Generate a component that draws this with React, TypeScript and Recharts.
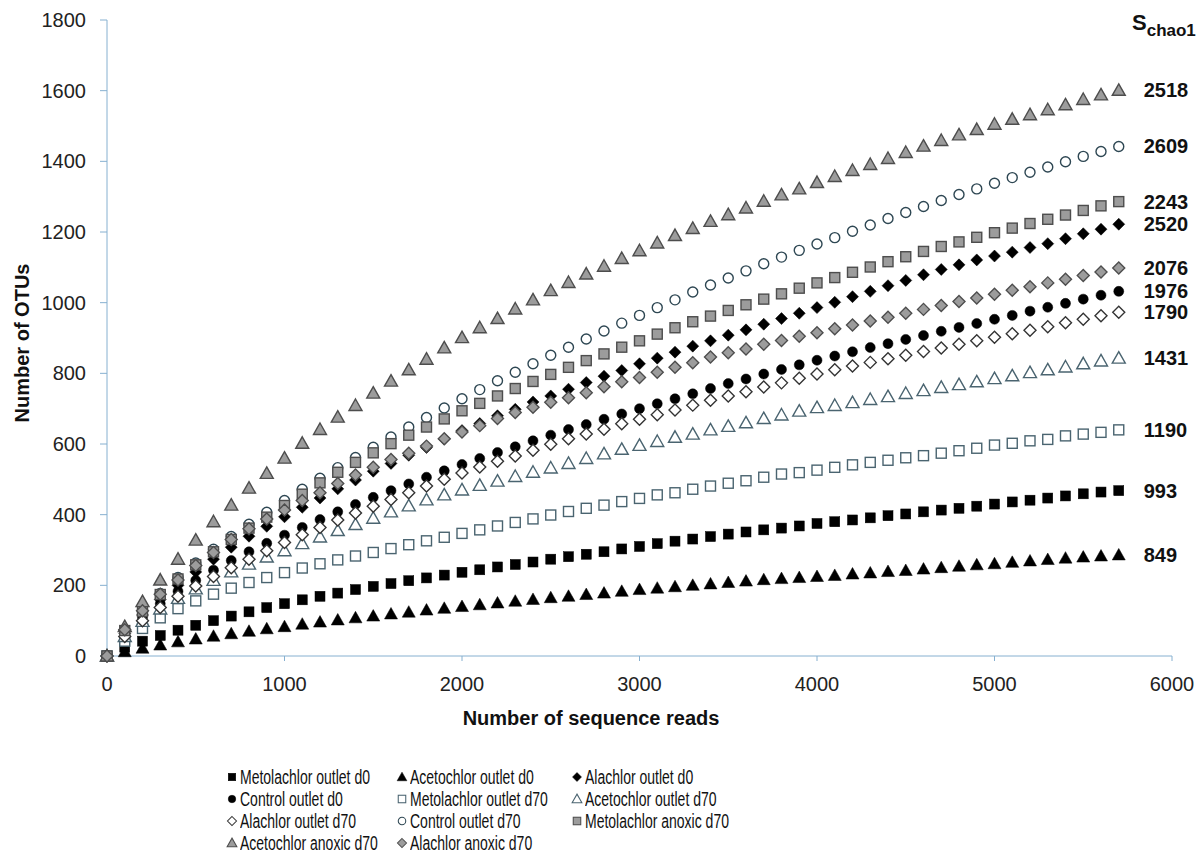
import React from "react";
import { ScatterChart, Scatter, XAxis, YAxis } from "recharts";

// sequence reads (x) at which each rarefaction point was computed
const READS = [
  0, 100, 200, 300, 400, 500, 600, 700, 800, 900, 1000, 1100, 1200, 1300, 1400, 1500, 1600, 1700, 1800, 1900,
  2000, 2100, 2200, 2300, 2400, 2500, 2600, 2700, 2800, 2900, 3000, 3100, 3200, 3300, 3400, 3500, 3600, 3700,
  3800, 3900, 4000, 4100, 4200, 4300, 4400, 4500, 4600, 4700, 4800, 4900, 5000, 5100, 5200, 5300, 5400, 5500,
  5600, 5700,
];

const METOLACHLOR_OUTLET_D0 = [
  0, 25, 42, 58, 73, 87, 100, 113, 125, 137, 148, 159, 169, 178, 188, 197, 205, 213, 221, 229, 237, 244, 252,
  259, 266, 274, 281, 288, 295, 303, 310, 318, 325, 331, 338, 345, 351, 357, 362, 368, 375, 380, 385, 391, 397,
  402, 408, 413, 418, 424, 430, 436, 441, 447, 453, 459, 464, 468,
];
const ACETOCHLOR_OUTLET_D0 = [
  0, 12, 22, 31, 40, 48, 56, 63, 70, 77, 83, 90, 96, 102, 108, 113, 119, 124, 130, 135, 140, 145, 150, 155, 160,
  165, 169, 174, 178, 183, 188, 192, 196, 200, 204, 208, 212, 216, 219, 222, 225, 228, 232, 235, 239, 242, 246,
  250, 254, 258, 261, 265, 269, 273, 277, 280, 283, 286,
];
const ALACHLOR_OUTLET_D0 = [
  0, 64, 116, 160, 200, 238, 274, 308, 339, 367, 394, 421, 447, 473, 498, 523, 545, 568, 590, 614, 638, 658, 680,
  698, 719, 736, 755, 774, 792, 808, 827, 843, 860, 877, 892, 908, 923, 939, 955, 970, 986, 1001, 1017, 1032,
  1048, 1063, 1079, 1094, 1107, 1121, 1132, 1143, 1156, 1167, 1181, 1195, 1208, 1222,
];
const CONTROL_OUTLET_D0 = [
  0, 60, 108, 148, 183, 214, 243, 270, 295, 319, 342, 364, 386, 408, 429, 449, 468, 487, 506, 524, 542, 559, 576,
  592, 609, 625, 641, 655, 670, 685, 700, 714, 728, 742, 757, 771, 784, 798, 811, 824, 837, 849, 861, 873, 884,
  896, 907, 919, 930, 941, 953, 964, 976, 987, 998, 1010, 1021, 1032,
];
const METOLACHLOR_OUTLET_D70 = [
  0, 42, 78, 108, 134, 156, 175, 192, 208, 222, 236, 249, 261, 272, 283, 293, 304, 315, 326, 336, 347, 357, 368,
  378, 388, 399, 409, 418, 427, 437, 446, 456, 462, 472, 481, 489, 496, 506, 515, 519, 526, 534, 541, 548, 554,
  561, 567, 574, 581, 588, 597, 602, 609, 613, 623, 628, 633, 640,
];
const ACETOCHLOR_OUTLET_D70 = [
  0, 55, 98, 133, 163, 190, 214, 238, 260, 280, 298, 318, 337, 355, 372, 390, 408, 425, 442, 456, 470, 483, 495,
  508, 520, 532, 545, 559, 572, 585, 596, 607, 619, 628, 640, 650, 660, 672, 682, 693, 703, 709, 717, 726, 734,
  743, 751, 760, 768, 776, 785, 793, 802, 810, 818, 827, 835, 843,
];
const ALACHLOR_OUTLET_D70 = [
  0, 55, 100, 137, 169, 198, 225, 250, 274, 298, 321, 343, 364, 385, 405, 424, 443, 462, 481, 500, 518, 535, 551,
  566, 582, 599, 615, 628, 642, 657, 670, 683, 696, 710, 724, 736, 748, 761, 773, 786, 798, 810, 821, 831, 841,
  851, 862, 872, 882, 892, 902, 912, 922, 932, 943, 953, 963, 973,
];
const CONTROL_OUTLET_D70 = [
  0, 72, 128, 177, 222, 263, 302, 338, 373, 407, 440, 472, 503, 533, 562, 591, 620, 648, 675, 702, 728, 754, 779,
  803, 827, 851, 874, 897, 920, 942, 964, 986, 1008, 1030, 1050, 1070, 1090, 1110, 1129, 1148, 1166, 1184, 1202,
  1220, 1238, 1255, 1272, 1289, 1306, 1322, 1338, 1354, 1369, 1384, 1399, 1414, 1428, 1442,
];
const METOLACHLOR_ANOXIC_D70 = [
  0, 72, 126, 174, 218, 258, 295, 330, 362, 393, 426, 458, 490, 520, 548, 575, 601, 625, 648, 671, 694, 715, 736,
  757, 777, 797, 817, 836, 855, 874, 892, 911, 929, 946, 962, 978, 994, 1010, 1025, 1041, 1056, 1071, 1086, 1101,
  1116, 1130, 1145, 1159, 1172, 1185, 1198, 1211, 1224, 1236, 1248, 1261, 1274, 1286,
];
const ACETOCHLOR_ANOXIC_D70 = [
  0, 83, 154, 215, 274, 328, 380, 427, 475, 517, 560, 602, 641, 676, 709, 744, 778, 810, 840, 872, 901, 929, 955,
  982, 1008, 1034, 1057, 1081, 1103, 1125, 1147, 1169, 1190, 1210, 1230, 1249, 1268, 1287, 1305, 1322, 1340, 1357,
  1374, 1391, 1408, 1425, 1443, 1459, 1475, 1490, 1505, 1519, 1532, 1546, 1560, 1575, 1588, 1601,
];
const ALACHLOR_ANOXIC_D70 = [
  0, 74, 128, 175, 215, 256, 293, 330, 360, 388, 413, 440, 462, 488, 512, 534, 556, 574, 594, 615, 634, 652, 672,
  689, 704, 718, 731, 745, 762, 776, 788, 803, 817, 830, 846, 858, 869, 882, 893, 905, 915, 926, 937, 948, 959,
  970, 981, 992, 1003, 1013, 1024, 1035, 1045, 1056, 1066, 1077, 1087, 1098,
];

const X_TICKS = [0, 1000, 2000, 3000, 4000, 5000, 6000];
const Y_TICKS = [0, 200, 400, 600, 800, 1000, 1200, 1400, 1600, 1800];

const AXIS = "#86b0d0";
const FONT = "'Liberation Sans', Arial, sans-serif";
const BLACK = "#000000";
const OPEN = "#4a6470";
const GRAY = "#9c9c9c";
const GRAY_EDGE = "#4d4d4d";

type Kind = "square" | "triangle" | "diamond" | "circle";

const series = [
  { name: "Metolachlor outlet d0", values: METOLACHLOR_OUTLET_D0, chao1: 993, kind: "square", fill: BLACK, stroke: BLACK },
  { name: "Acetochlor outlet d0", values: ACETOCHLOR_OUTLET_D0, chao1: 849, kind: "triangle", fill: BLACK, stroke: BLACK },
  { name: "Alachlor outlet d0", values: ALACHLOR_OUTLET_D0, chao1: 2520, kind: "diamond", fill: BLACK, stroke: BLACK },
  { name: "Control outlet d0", values: CONTROL_OUTLET_D0, chao1: 1976, kind: "circle", fill: BLACK, stroke: BLACK },
  { name: "Metolachlor outlet d70", values: METOLACHLOR_OUTLET_D70, chao1: 1190, kind: "square", fill: "#fff", stroke: OPEN },
  { name: "Acetochlor outlet d70", values: ACETOCHLOR_OUTLET_D70, chao1: 1431, kind: "triangle", fill: "#fff", stroke: OPEN },
  { name: "Alachlor outlet d70", values: ALACHLOR_OUTLET_D70, chao1: 1790, kind: "diamond", fill: "#fff", stroke: "#333" },
  { name: "Control outlet d70", values: CONTROL_OUTLET_D70, chao1: 2609, kind: "circle", fill: "#fff", stroke: "#2e4753" },
  { name: "Metolachlor anoxic d70", values: METOLACHLOR_ANOXIC_D70, chao1: 2243, kind: "square", fill: GRAY, stroke: GRAY_EDGE },
  { name: "Acetochlor anoxic d70", values: ACETOCHLOR_ANOXIC_D70, chao1: 2518, kind: "triangle", fill: GRAY, stroke: GRAY_EDGE },
  { name: "Alachlor anoxic d70", values: ALACHLOR_ANOXIC_D70, chao1: 2076, kind: "diamond", fill: GRAY, stroke: GRAY_EDGE },
];

const Marker = ({
  kind,
  cx,
  cy,
  fill,
  stroke,
  k = 1,
}: {
  kind: Kind;
  cx: number;
  cy: number;
  fill: string;
  stroke: string;
  k?: number;
}) => {
  const sw = fill === BLACK ? 0.5 : 1.4 * k;
  if (kind === "square") {
    const h = 5 * k;
    return <rect x={cx - h} y={cy - h} width={2 * h} height={2 * h} fill={fill} stroke={stroke} strokeWidth={sw} />;
  }
  if (kind === "triangle") {
    const w = 6.5 * k;
    return (
      <polygon
        points={`${cx},${cy - w} ${cx + w},${cy + 5 * k} ${cx - w},${cy + 5 * k}`}
        fill={fill}
        stroke={stroke}
        strokeWidth={sw}
      />
    );
  }
  if (kind === "diamond") {
    const d = 6 * k;
    return (
      <polygon
        points={`${cx},${cy - d} ${cx + d},${cy} ${cx},${cy + d} ${cx - d},${cy}`}
        fill={fill}
        stroke={stroke}
        strokeWidth={sw}
      />
    );
  }
  return <circle cx={cx} cy={cy} r={5 * k} fill={fill} stroke={stroke} strokeWidth={sw} />;
};

const lastRead = READS[READS.length - 1];

export default function App() {
  return (
    <div style={{ position: "absolute", left: 0, top: 0, width: 1204, height: 861, background: "#fff", fontFamily: FONT }}>
      <ScatterChart width={1204} height={740} margin={{ top: 20, right: 32, bottom: 0, left: 47 }}>
        <XAxis
          type="number"
          dataKey="x"
          domain={[0, 6000]}
          ticks={X_TICKS}
          height={84}
          axisLine={{ stroke: AXIS }}
          tickLine={{ stroke: AXIS }}
          tickSize={5}
          tickMargin={16}
          tick={{ fill: "#222", fontSize: 20, fontFamily: FONT }}
        />
        <YAxis
          type="number"
          dataKey="y"
          domain={[0, 1800]}
          ticks={Y_TICKS}
          width={60}
          axisLine={{ stroke: AXIS }}
          tickLine={{ stroke: AXIS }}
          tickSize={7}
          tickMargin={14}
          tick={{ fill: "#222", fontSize: 20, fontFamily: FONT }}
        />
        {series.map((s) => (
          <Scatter
            key={s.name}
            name={s.name}
            data={READS.map((x, i) => ({ x, y: s.values[i] }))}
            isAnimationActive={false}
            shape={(p: any) => (
              <g>
                <Marker kind={s.kind as Kind} cx={p.cx} cy={p.cy} fill={s.fill} stroke={s.stroke} />
                {p.payload && p.payload.x === lastRead ? (
                  <text
                    x={p.cx + 25}
                    y={p.cy}
                    dy="0.35em"
                    fontSize={20}
                    fontWeight="bold"
                    fontFamily={FONT}
                    fill="#111"
                  >
                    {s.chao1}
                  </text>
                ) : null}
              </g>
            )}
          />
        ))}
      </ScatterChart>

      {/* S chao1 header above the value labels */}
      <div style={{ position: "absolute", left: 1132, top: 10, fontWeight: "bold", color: "#111", whiteSpace: "nowrap" }}>
        <span style={{ fontSize: 22 }}>S</span>
        <span style={{ fontSize: 17, position: "relative", top: 6 }}>chao1</span>
      </div>

      <div
        style={{
          position: "absolute",
          left: 22,
          top: 343,
          transform: "translate(-50%, -50%) rotate(-90deg)",
          fontSize: 20,
          fontWeight: "bold",
          color: "#111",
          whiteSpace: "nowrap",
        }}
      >
        Number of OTUs
      </div>
      <div
        style={{
          position: "absolute",
          left: 591,
          top: 718,
          transform: "translate(-50%, -50%)",
          fontSize: 20,
          fontWeight: "bold",
          color: "#111",
          whiteSpace: "nowrap",
        }}
      >
        Number of sequence reads
      </div>

      <div
        style={{
          position: "absolute",
          left: 225,
          top: 766,
          display: "grid",
          gridTemplateColumns: "170px 175px 200px",
          gridAutoRows: "22px",
        }}
      >
        {series.map((s) => (
          <div key={s.name} style={{ display: "flex", alignItems: "center", height: 22 }}>
            <svg width={14} height={16} style={{ flex: "none" }}>
              <Marker kind={s.kind as Kind} cx={7} cy={8} fill={s.fill} stroke={s.stroke} k={0.75} />
            </svg>
            <span
              style={{
                fontSize: 20,
                color: "#111",
                whiteSpace: "nowrap",
                display: "inline-block",
                transform: "scaleX(0.7)",
                transformOrigin: "left center",
                marginLeft: 1,
              }}
            >
              {s.name}
            </span>
          </div>
        ))}
      </div>
    </div>
  );
}
